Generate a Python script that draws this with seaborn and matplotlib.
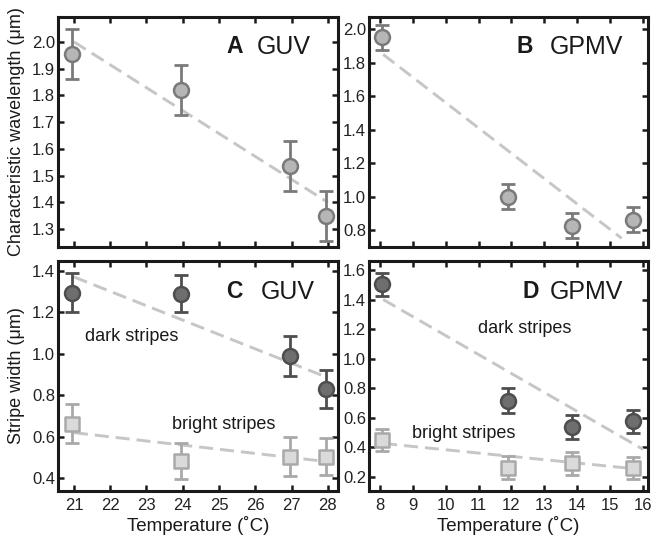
import numpy as np
import pandas as pd
import matplotlib
matplotlib.use("Agg")
import matplotlib.pyplot as plt
import seaborn as sns

# --- data ---
# A: GUV characteristic wavelength
guv_temp = [20.95, 23.95, 26.95, 27.95]
guv_wave = [1.955, 1.82, 1.535, 1.35]
guv_wave_err = [0.095, 0.095, 0.093, 0.093]
guv_wave_fit_x = [21.0, 28.0]
guv_wave_fit_y = [2.0, 1.40]

# B: GPMV characteristic wavelength
gpmv_temp = [8.08, 11.9, 13.85, 15.7]
gpmv_wave = [1.952, 1.0, 0.825, 0.86]
gpmv_wave_err = [0.074, 0.075, 0.075, 0.075]
gpmv_wave_fit_x = [8.1, 15.35]
gpmv_wave_fit_y = [1.85, 0.75]

# C: GUV stripe widths
guv_dark = [1.295, 1.29, 0.99, 0.83]
guv_dark_err = [0.095, 0.09, 0.095, 0.09]
guv_bright = [0.664, 0.483, 0.505, 0.505]
guv_bright_err = [0.092, 0.088, 0.093, 0.09]
guv_dark_fit_y = [1.37, 0.885]
guv_bright_fit_y = [0.62, 0.48]

# D: GPMV stripe widths
gpmv_dark = [1.505, 0.715, 0.534, 0.577]
gpmv_dark_err = [0.078, 0.085, 0.082, 0.078]
gpmv_bright = [0.45, 0.262, 0.29, 0.26]
gpmv_bright_err = [0.074, 0.077, 0.08, 0.076]
gpmv_dark_fit_x = [8.1, 16.0]
gpmv_dark_fit_y = [1.40, 0.385]
gpmv_bright_fit_x = [8.1, 15.9]
gpmv_bright_fit_y = [0.425, 0.25]

sns.set_theme(style="ticks")
plt.rcParams['font.family'] = ['Liberation Sans', 'DejaVu Sans']

mid_face, mid_edge = '#b6b6b6', '#7a7a7a'
dark_face, dark_edge = '#6e6e6e', '#4e4e4e'
light_face, light_edge = '#dadada', '#a9a9a9'
fit_color = '#c6c6c6'
ink = '#1a1a1a'

fig = plt.figure(figsize=(6.57, 5.35), dpi=100)
W, H = 657, 535


def box(l, r, t, b):
    return [l / W, 1 - b / H, (r - l) / W, (b - t) / H]


axA = fig.add_axes(box(58, 338, 17, 247))
axB = fig.add_axes(box(369, 648, 17, 247))
axC = fig.add_axes(box(58, 338, 261, 491))
axD = fig.add_axes(box(369, 648, 261, 491))


def fit_line(ax, x, y):
    sns.lineplot(x=x, y=y, ax=ax, color=fit_color, lw=2.1,
                 dashes=False, linestyle=(0, (4.8, 2.4)), zorder=1)


def points(ax, x, y, err, face, edge, marker):
    ax.errorbar(x, y, yerr=err, fmt='none', ecolor=edge, elinewidth=2.0,
                capsize=5, capthick=2.0, zorder=2)
    sns.scatterplot(x=x, y=y, ax=ax, marker=marker, s=115, color=face,
                    edgecolor=edge, linewidth=1.8, zorder=3, legend=False)


def style(ax, xlim, ylim, xticks, yticks):
    ax.set_xlim(*xlim)
    ax.set_ylim(*ylim)
    ax.set_xticks(xticks)
    ax.set_yticks(yticks)
    ax.set_yticklabels(['{:.1f}'.format(v) for v in yticks])
    for s in ax.spines.values():
        s.set_linewidth(2.2)
        s.set_color(ink)
    ax.tick_params(direction='in', length=4.5, width=1.8, color=ink,
                   top=True, right=True, labelsize=12, labelcolor='#222222')
    ax.tick_params(axis='y', pad=2)
    ax.tick_params(axis='x', pad=5)
    ax.set_xlabel('')
    ax.set_ylabel('')


# A
fit_line(axA, guv_wave_fit_x, guv_wave_fit_y)
points(axA, guv_temp, guv_wave, guv_wave_err, mid_face, mid_edge, 'o')
style(axA, (20.56, 28.28), (1.233, 2.093), range(21, 29),
      np.round(np.arange(1.3, 2.01, 0.1), 1))
axA.set_xticklabels([])

# B
fit_line(axB, gpmv_wave_fit_x, gpmv_wave_fit_y)
points(axB, gpmv_temp, gpmv_wave, gpmv_wave_err, mid_face, mid_edge, 'o')
style(axB, (7.67, 16.15), (0.698, 2.074), range(8, 17),
      np.round(np.arange(0.8, 2.01, 0.2), 1))
axB.set_xticklabels([])

# C
fit_line(axC, guv_wave_fit_x, guv_dark_fit_y)
fit_line(axC, guv_wave_fit_x, guv_bright_fit_y)
points(axC, guv_temp, guv_dark, guv_dark_err, dark_face, dark_edge, 'o')
points(axC, guv_temp, guv_bright, guv_bright_err, light_face, light_edge, 's')
style(axC, (20.56, 28.28), (0.339, 1.447), range(21, 29),
      np.round(np.arange(0.4, 1.41, 0.2), 1))

# D
fit_line(axD, gpmv_dark_fit_x, gpmv_dark_fit_y)
fit_line(axD, gpmv_bright_fit_x, gpmv_bright_fit_y)
points(axD, gpmv_temp, gpmv_dark, gpmv_dark_err, dark_face, dark_edge, 'o')
points(axD, gpmv_temp, gpmv_bright, gpmv_bright_err, light_face, light_edge, 's')
style(axD, (7.67, 16.15), (0.103, 1.661), range(8, 17),
      np.round(np.arange(0.2, 1.61, 0.2), 1))

# panel labels
for ax, letter, name, lx, nx, y in [
        (axA, 'A', 'GUV', 0.60, 0.71, 0.87),
        (axB, 'B', 'GPMV', 0.53, 0.648, 0.87),
        (axC, 'C', 'GUV', 0.60, 0.725, 0.867),
        (axD, 'D', 'GPMV', 0.55, 0.648, 0.867)]:
    ax.text(lx, y, letter, transform=ax.transAxes, fontsize=16.5,
            fontweight='bold', va='center', ha='left', color=ink)
    ax.text(nx, y, name, transform=ax.transAxes, fontsize=18,
            va='center', ha='left', color=ink)

axC.text(0.096, 0.671, 'dark stripes', transform=axC.transAxes,
         fontsize=13, va='center', ha='left', color=ink)
axC.text(0.406, 0.287, 'bright stripes', transform=axC.transAxes,
         fontsize=13, va='center', ha='left', color=ink)
axD.text(0.392, 0.707, 'dark stripes', transform=axD.transAxes,
         fontsize=13, va='center', ha='left', color=ink)
axD.text(0.153, 0.251, 'bright stripes', transform=axD.transAxes,
         fontsize=13, va='center', ha='left', color=ink)

# axis labels
axA.set_ylabel('Characteristic wavelength (μm)', fontsize=13, color=ink)
axA.yaxis.set_label_coords(-0.118, 0.5)
axC.set_ylabel('Stripe width (μm)', fontsize=13, color=ink)
axC.yaxis.set_label_coords(-0.118, 0.5)
axC.set_xlabel('Temperature (˚C)', fontsize=13.5, color=ink, labelpad=2)
axD.set_xlabel('Temperature (˚C)', fontsize=13.5, color=ink, labelpad=2)

fig.savefig('out.png', dpi=100)
